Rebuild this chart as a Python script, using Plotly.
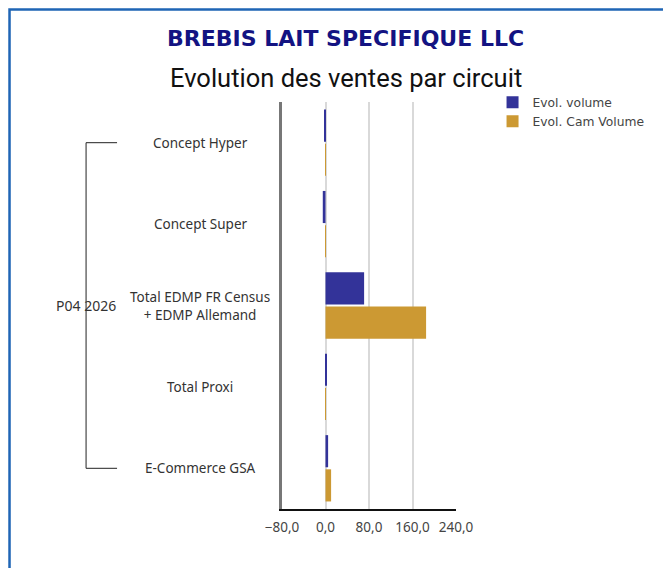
import plotly.graph_objects as go

# data
circuits = ["Concept Hyper", "Concept Super", "Total EDMP FR Census<br>+ EDMP Allemand",
            "Total Proxi", "E-Commerce GSA"]
period = "P04 2026"
evol_volume = [-2.6, -5.0, 71.0, 1.0, 4.8]
evol_cam_volume = [0.8, 0.8, 185.0, 0.8, 10.3]
x_ticks = [-80, 0, 80, 160, 240]

fig = go.Figure()
fig.add_trace(go.Bar(y=circuits, x=evol_volume, orientation="h", name="Evol. volume",
                     marker=dict(color="#333399", line=dict(width=0))))
fig.add_trace(go.Bar(y=circuits, x=evol_cam_volume, orientation="h", name="Evol. Cam Volume",
                     marker=dict(color="#CC9933", line=dict(width=0))))

# category labels, centred like the original
for c in circuits:
    fig.add_annotation(x=-0.47, y=c, xref="paper", yref="y", text=c, showarrow=False,
                       xanchor="center", align="center",
                       font=dict(family="Noto Sans", size=13.5, color="#333333"))

# period bracket
bx, tx = -1.126, -0.948
fig.add_shape(type="line", xref="paper", yref="y", x0=bx, x1=bx, y0=circuits[0], y1=circuits[-1],
              line=dict(color="#222222", width=1))
for c in (circuits[0], circuits[-1]):
    fig.add_shape(type="line", xref="paper", yref="y", x0=bx, x1=tx, y0=c, y1=c,
                  line=dict(color="#222222", width=1))
fig.add_annotation(x=bx, y=circuits[2], xref="paper", yref="y", text=period, showarrow=False,
                   xanchor="center", font=dict(family="Noto Sans", size=14, color="#333333"))

# page border
fig.add_shape(type="rect", xref="paper", yref="paper", x0=-1.566, x1=2.5, y0=-0.3, y1=1.2273,
              line=dict(color="#1F65B5", width=2.5), fillcolor="rgba(0,0,0,0)", layer="below")

fig.add_annotation(x=0.365, y=1.157, xref="paper", yref="paper", text="<b>BREBIS LAIT SPECIFIQUE LLC</b>",
                   showarrow=False, xanchor="center", yanchor="middle",
                   font=dict(family="DejaVu Sans", size=22, color="#131382"))
fig.add_annotation(x=0.365, y=1.06, xref="paper", yref="paper", text="Evolution des ventes par circuit",
                   showarrow=False, xanchor="center", yanchor="middle",
                   font=dict(family="Roboto", size=25.5, color="#111111"))

fig.update_layout(
    width=671, height=568,
    margin=dict(l=274, r=223, t=94, b=67),
    paper_bgcolor="white", plot_bgcolor="white",
    barmode="group", bargap=0.16, bargroupgap=0.06,
    separators=", ",
    showlegend=True,
    legend=dict(x=1.21, y=1.035, xanchor="left", yanchor="top", tracegroupgap=0,
                font=dict(family="DejaVu Sans", size=12.3, color="#444444"),
                itemwidth=30, bgcolor="rgba(0,0,0,0)"),
    xaxis=dict(range=[-80, 240], tickvals=x_ticks, tickformat=".1f", showgrid=True,
               gridcolor="#D9D9D9", gridwidth=1.5, zeroline=False, showline=True,
               linecolor="#111111", linewidth=2, ticks="", ticklabelstandoff=5,
               tickfont=dict(family="Noto Sans", size=13.5, color="#444444")),
    yaxis=dict(autorange="reversed", showticklabels=False, showgrid=False, zeroline=False,
               showline=True, linecolor="#777777", linewidth=2.5, ticks=""),
)

fig.write_html("out.html")
